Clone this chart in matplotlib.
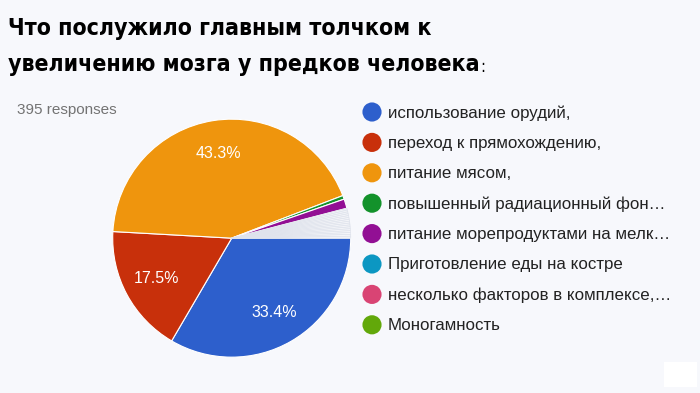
import matplotlib
matplotlib.use("Agg")
import matplotlib.pyplot as plt
from matplotlib.patches import Rectangle
import numpy as np

title_line1 = "Что послужило главным толчком к"
title_line2 = "увеличению мозга у предков человека"
subtitle = "395 responses"

categories = [
    "использование орудий,",
    "переход к прямохождению,",
    "питание мясом,",
    "повышенный радиационный фон…",
    "питание морепродуктами на мелк…",
    "Приготовление еды на костре",
    "несколько факторов в комплексе,…",
    "Моногамность",
]
counts = [132, 69, 171, 2, 5, 1, 1, 1]
other_counts = [1, 1, 1, 1, 1, 1, 1, 1, 1, 1, 1, 1, 1]
colors = ["#2d5fcc", "#c8300b", "#ef950d", "#13922b", "#920f94",
          "#0c97c2", "#d94474", "#62a80a"]
slice_colors = colors[:5] + ["#f2f4f8"] * 3
other_color = "#f4f5f9"

bg = "#f7f8fc"
fig = plt.figure(figsize=(7, 3.93), dpi=100, facecolor=bg)

# Pie
ax = fig.add_axes([0.161, 0.091, 0.34, 0.606])
ax.set_facecolor(bg)
values = counts + other_counts
wcolors = slice_colors + [other_color] * len(other_counts)
total = sum(values)
wedges, _ = ax.pie(values, colors=wcolors, startangle=0, counterclock=False,
                   wedgeprops=dict(edgecolor="white", linewidth=0.8))
for w in wedges[5:]:
    w.set_edgecolor("#dfe3ec")
    w.set_linewidth(0.5)
for w, v in zip(wedges[:3], counts[:3]):
    ang = np.deg2rad((w.theta1 + w.theta2) / 2)
    r = 0.72
    ax.text(r * np.cos(ang), r * np.sin(ang), f"{100 * v / total:.1f}%",
            ha="center", va="center", color="white", fontsize=11.5,
            family="Liberation Sans")
ax.set_aspect("equal")
ax.set_xlim(-1, 1)
ax.set_ylim(-1, 1)

# Overlay in pixel coords
ov = fig.add_axes([0, 0, 1, 1], facecolor="none")
ov.set_xlim(0, 700)
ov.set_ylim(393, 0)
ov.axis("off")

tkw = dict(fontsize=16.6, fontweight="bold", family="DejaVu Sans",
           fontstretch="condensed", va="center", ha="left", color="black")
ov.text(8, 28, title_line1, **tkw)
t2 = ov.text(8, 65, title_line2, **tkw)
fig.canvas.draw()
bb = t2.get_window_extent()
x_end = bb.x1
ov.text(x_end + 1, 67, ":", fontsize=12, family="DejaVu Sans",
        fontstretch="condensed", va="center", ha="left", color="black")

ov.text(17, 110, subtitle, fontsize=11, family="Liberation Sans",
        color="#737373", va="center", ha="left")

y0 = 112
dy = 30.4
for i, (c, lab) in enumerate(zip(colors, categories)):
    y = y0 + i * dy
    ov.scatter([372], [y], s=190, color=c, edgecolors="none")
    ov.text(388, y + 1, lab, fontsize=12.2, family="Liberation Sans",
            color="#222222", va="center", ha="left")

ov.add_patch(Rectangle((664, 362), 33, 25, facecolor="white", edgecolor="none"))

fig.savefig("out.png", dpi=100, facecolor=bg)
